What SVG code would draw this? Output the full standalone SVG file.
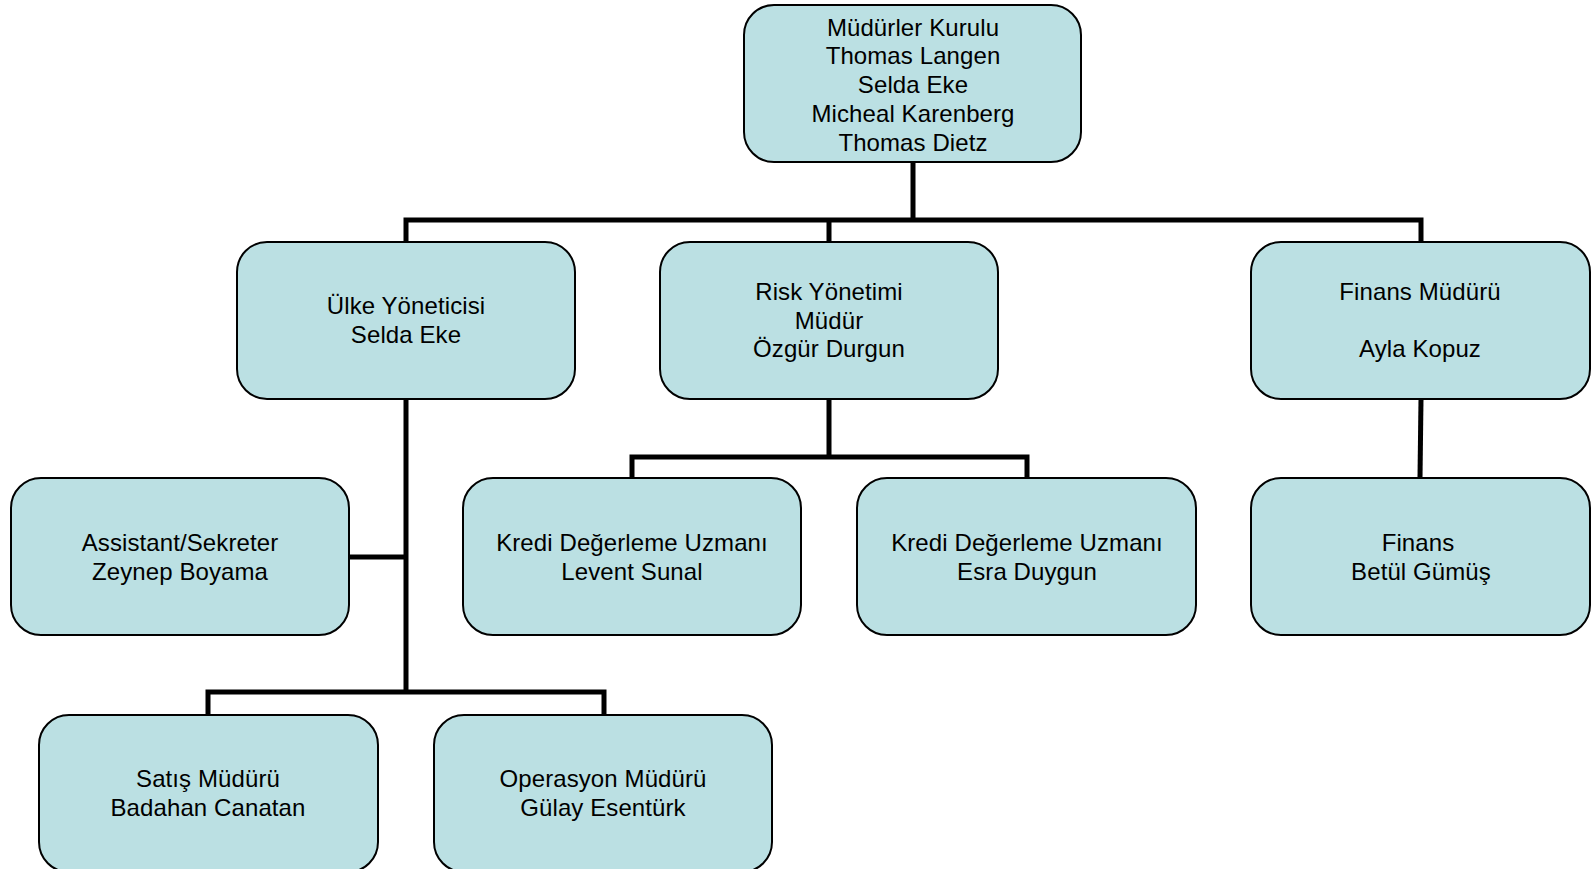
<svg xmlns="http://www.w3.org/2000/svg" width="1592" height="869" viewBox="0 0 1592 869">
<style>
.box{fill:#BBE0E3;stroke:#000;stroke-width:2}
.t{font-family:"Liberation Sans",Arial,sans-serif;font-size:24px;letter-spacing:0.1px;fill:#000;text-anchor:middle}
.c{fill:none;stroke:#000;stroke-width:5;stroke-linecap:square}
</style>
<rect width="1592" height="869" fill="#fff"/>
<g id="connectors">
<path class="c" d="M913 162V220M406 220H1421M406 220V242M829 220V242M1421 220V242"/>
<path class="c" d="M406 399V692M349 557H406M208 692H604M208 692V715M604 692V715"/>
<path class="c" d="M829 399V457M632 457H1027M632 457V478M1027 457V478"/>
<path class="c" d="M1421 399L1420 478"/>
</g>
<g id="n-board"><rect class="box" x="744" y="5" width="337" height="157" rx="30"/>
<text class="t"><tspan x="913" y="36">Müdürler Kurulu</tspan><tspan x="913" y="64">Thomas Langen</tspan><tspan x="913" y="93">Selda Eke</tspan><tspan x="913" y="122">Micheal Karenberg</tspan><tspan x="913" y="151">Thomas Dietz</tspan></text></g>
<g id="n-ulke"><rect class="box" x="237" y="242" width="338" height="157" rx="30"/>
<text class="t"><tspan x="406" y="314">Ülke Yöneticisi</tspan><tspan x="406" y="343">Selda Eke</tspan></text></g>
<g id="n-risk"><rect class="box" x="660" y="242" width="338" height="157" rx="30"/>
<text class="t"><tspan x="829" y="300">Risk Yönetimi</tspan><tspan x="829" y="329">Müdür</tspan><tspan x="829" y="357">Özgür Durgun</tspan></text></g>
<g id="n-finansmd"><rect class="box" x="1251" y="242" width="339" height="157" rx="30"/>
<text class="t"><tspan x="1420" y="300">Finans Müdürü</tspan><tspan x="1420" y="357">Ayla Kopuz</tspan></text></g>
<g id="n-assistant"><rect class="box" x="11" y="478" width="338" height="157" rx="30"/>
<text class="t"><tspan x="180" y="551">Assistant/Sekreter</tspan><tspan x="180" y="580">Zeynep Boyama</tspan></text></g>
<g id="n-kredi1"><rect class="box" x="463" y="478" width="338" height="157" rx="30"/>
<text class="t"><tspan x="632" y="551">Kredi Değerleme Uzmanı</tspan><tspan x="632" y="580">Levent Sunal</tspan></text></g>
<g id="n-kredi2"><rect class="box" x="857" y="478" width="339" height="157" rx="30"/>
<text class="t"><tspan x="1027" y="551">Kredi Değerleme Uzmanı</tspan><tspan x="1027" y="580">Esra Duygun</tspan></text></g>
<g id="n-finans"><rect class="box" x="1251" y="478" width="339" height="157" rx="30"/>
<text class="t"><tspan x="1418" y="551">Finans</tspan><tspan x="1421" y="580">Betül Gümüş</tspan></text></g>
<g id="n-satis"><rect class="box" x="39" y="715" width="339" height="157" rx="30"/>
<text class="t"><tspan x="208" y="787">Satış Müdürü</tspan><tspan x="208" y="816">Badahan Canatan</tspan></text></g>
<g id="n-operasyon"><rect class="box" x="434" y="715" width="338" height="157" rx="30"/>
<text class="t"><tspan x="603" y="787">Operasyon Müdürü</tspan><tspan x="603" y="816">Gülay Esentürk</tspan></text></g>
</svg>
